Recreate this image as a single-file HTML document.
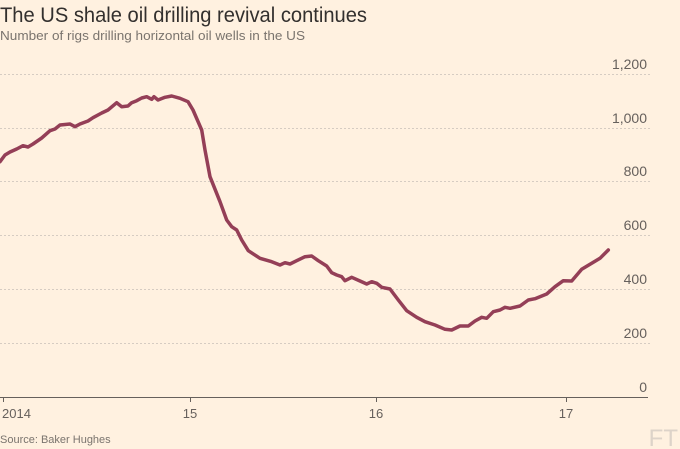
<!DOCTYPE html>
<html><head><meta charset="utf-8">
<style>
html,body{margin:0;padding:0;background:#fff1e0;}
svg{display:block;}
text{font-family:"Liberation Sans",sans-serif;}
</style></head>
<body>
<svg width="680" height="449" viewBox="0 0 680 449" xmlns="http://www.w3.org/2000/svg">
<rect width="680" height="449" fill="#fff1e0"/>
<text x="0" y="22" font-size="21" fill="#33302e" textLength="367" lengthAdjust="spacingAndGlyphs">The US shale oil drilling revival continues</text>
<text x="0" y="40" font-size="12.5" fill="#7a746e" textLength="305" lengthAdjust="spacingAndGlyphs">Number of rigs drilling horizontal oil wells in the US</text>
<g stroke="#d6ccc2" stroke-width="1" stroke-dasharray="2,2">
<line x1="0" y1="74.5" x2="650" y2="74.5"/>
<line x1="0" y1="128.5" x2="650" y2="128.5"/>
<line x1="0" y1="181.5" x2="650" y2="181.5"/>
<line x1="0" y1="235.5" x2="650" y2="235.5"/>
<line x1="0" y1="289.5" x2="650" y2="289.5"/>
<line x1="0" y1="343.5" x2="650" y2="343.5"/>
</g>
<g font-size="14" fill="#66605c" text-anchor="end">
<text x="647" y="69">1,200</text>
<text x="647" y="123">1,000</text>
<text x="647" y="176">800</text>
<text x="647" y="230">600</text>
<text x="647" y="284">400</text>
<text x="647" y="338">200</text>
<text x="647" y="392">0</text>
</g>
<line x1="0" y1="397.5" x2="648" y2="397.5" stroke="#66605c" stroke-width="1"/>
<g stroke="#66605c" stroke-width="1">
<line x1="3.5" y1="397" x2="3.5" y2="402"/>
<line x1="190.5" y1="397" x2="190.5" y2="402"/>
<line x1="376.5" y1="397" x2="376.5" y2="402"/>
<line x1="566.5" y1="397" x2="566.5" y2="402"/>
</g>
<g font-size="13" fill="#66605c">
<text x="2" y="418">2014</text>
<text x="190" y="418" text-anchor="middle">15</text>
<text x="376" y="418" text-anchor="middle">16</text>
<text x="566" y="418" text-anchor="middle">17</text>
</g>
<text x="0" y="443" font-size="11" fill="#7a746e">Source: Baker Hughes</text>
<text x="678" y="446" font-size="24" fill="#ddd3c9" text-anchor="end" font-family="Liberation Serif, serif">FT</text>
<polyline fill="none" stroke="#943f57" stroke-width="3.5" stroke-linejoin="round" stroke-linecap="round"
points="0,161.7 5,155 10,152 16.7,149 23,145.7 28,147 33,144 41.7,138 50,130.7 55,129 60,125 70,124 75,126.7 80,124 88,121 93,117.7 101.7,113 108,110 116.7,102.7 121.7,106.7 128,106 131.7,102.7 136.7,100.7 141.7,98 146.7,96.7 151.7,99.3 154,96.7 158,100 165,97.3 171.7,96 180,98.3 188,101.7 193,110 201.7,130 205,150 210,176.7 220,201.7 226.7,220 231.7,226.7 236.7,230 241.7,240 248.3,250.7 260,258.3 271.7,261.7 280,265 285,262.7 290,264 296.7,260.7 305,256.7 311.7,256 318.3,260.7 326.7,266 331.7,272.7 336.7,275 341.7,276.7 345,280.7 351.7,277.3 360,281 366.7,284 371.7,281.7 376.7,283.3 381.7,287.3 390,289 398.3,300 406.7,310.7 416.7,317.3 425,321.7 435,325 445,329.3 451.7,330 460,326 468.3,326 475,321 481.7,317.3 486.7,318.3 493.3,311.7 500,310 505,307.3 510,308.3 520,306 528.3,300 535,298.7 546.7,294 555,286.7 563.3,280.7 571.7,281 581.7,269.3 591.7,263.3 600,258.3 608.3,250"/>
</svg>
</body></html>
